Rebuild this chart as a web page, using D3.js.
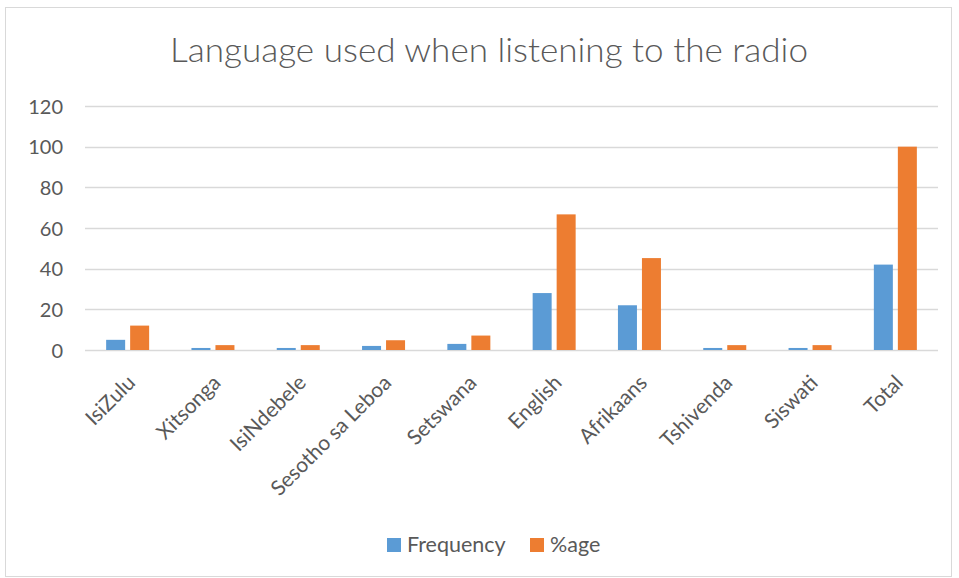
<!DOCTYPE html>
<html><head><meta charset="utf-8">
<script src="https://cdn.jsdelivr.net/npm/d3@7"></script>
<style>body{margin:0;background:#fff;}svg{display:block;}</style>
</head><body>
<svg id="c" width="959" height="578"></svg>
<script>
const categories = ["IsiZulu","Xitsonga","IsiNdebele","Sesotho sa Leboa","Setswana","English","Afrikaans","Tshivenda","Siswati","Total"];
const frequency = [5,1,1,2,3,28,22,1,1,42];
const percentage = [12,2.4,2.4,4.8,7.1,66.7,45.2,2.4,2.4,100];
const seriesNames = ["Frequency","%age"];
const yTicks = [0,20,40,60,80,100,120];
const colors = ["#5b9bd5","#ed7d31"];

const svg = d3.select("#c");
svg.append("rect").attr("x",5.5).attr("y",7.5).attr("width",946).attr("height",569)
  .attr("fill","#fff").attr("stroke","#d9d9d9");

const font = "Lato, 'Open Sans', sans-serif";
svg.append("text").attr("x",489).attr("y",62).attr("text-anchor","middle")
  .attr("font-family",font).attr("font-weight",300).attr("font-size",34).attr("fill","#595959")
  .attr("textLength",638).attr("lengthAdjust","spacingAndGlyphs")
  .text("Language used when listening to the radio");

const x = d3.scaleBand().domain(categories).range([85,938]).paddingInner(0).paddingOuter(0);
const y = d3.scaleLinear().domain([0,120]).range([350,106]);

const grid = svg.append("g");
grid.selectAll("line").data(yTicks).join("line")
  .attr("x1",85).attr("x2",938).attr("y1",d=>Math.round(y(d))+0.5).attr("y2",d=>Math.round(y(d))+0.5)
  .attr("stroke","#d9d9d9").attr("stroke-width",1.5);

const yAxis = d3.axisLeft(y).tickValues(yTicks).tickSize(0).tickPadding(0);
const ya = svg.append("g").attr("transform","translate(63,0)").call(yAxis);
ya.select(".domain").remove();
ya.selectAll("text").attr("font-family",font).attr("font-size",20).attr("fill","#595959").attr("dy","0.36em");

const barW = 19, gap = 5;
const data = [frequency, percentage];
data.forEach((vals,si)=>{
  svg.append("g").selectAll("rect").data(categories).join("rect")
    .attr("x",(d,i)=>x(d)+x.bandwidth()/2 + (si===0 ? -(barW+gap/2) : gap/2))
    .attr("width",barW)
    .attr("y",(d,i)=>y(vals[i]))
    .attr("height",(d,i)=>y(0)-y(vals[i]))
    .attr("fill",colors[si]);
});

const xAxis = d3.axisBottom(x).tickSize(0).tickPadding(0);
const xa = svg.append("g").attr("transform","translate(0,350)").call(xAxis);
xa.select(".domain").remove();
xa.selectAll("text")
  .attr("font-family",font).attr("font-size",21).attr("fill","#595959")
  .attr("text-anchor","end").attr("dy",0)
  .attr("transform","translate(9,34) rotate(-45)");

const legend = svg.append("g");
const lx = [387, 530];
seriesNames.forEach((n,i)=>{
  legend.append("rect").attr("x",lx[i]).attr("y",538).attr("width",14).attr("height",14).attr("fill",colors[i]);
  legend.append("text").attr("x",lx[i]+20).attr("y",552).attr("font-family",font).attr("font-size",21.5)
    .attr("fill","#595959").text(n);
});
</script>
</body></html>
